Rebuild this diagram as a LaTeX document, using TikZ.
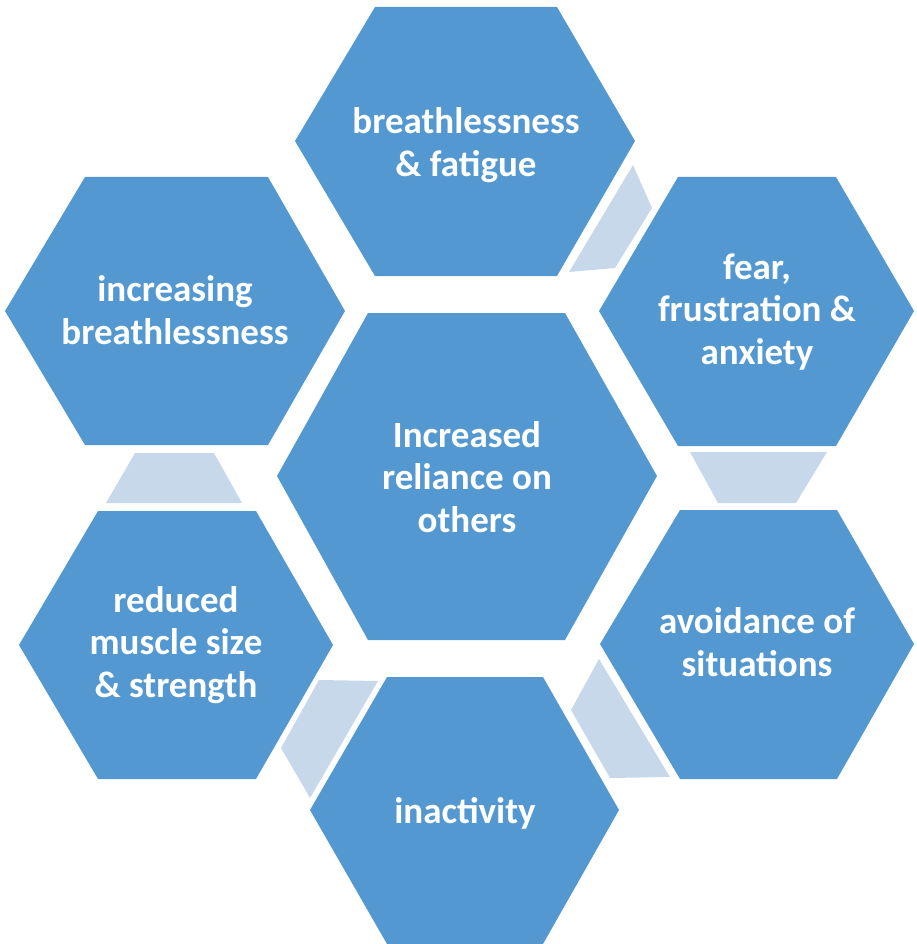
\documentclass[tikz,border=0pt]{standalone}
\usepackage{fontspec}
\setmainfont{Carlito}
\definecolor{hexblue}{HTML}{5398D1}
\definecolor{linkblue}{HTML}{C7D8EA}
\begin{document}
\begin{tikzpicture}[x=1pt,y=-1pt,
  hexfill/.style={fill=hexblue,draw=none},
  linkfill/.style={fill=linkblue,draw=none},
  label/.style={text=white,align=center,font=\fontsize{37}{42.5}\selectfont\bfseries,inner sep=0pt}]
\useasboundingbox (0,0) rectangle (916,944);

% hexagons (top-left, top-right, right, bottom-right, bottom-left, left)
\fill[hexfill] (375,7) -- (557,7) -- (635,141) -- (557,276) -- (375,276) -- (295,141) -- cycle;
\fill[hexfill] (85,177) -- (268,177) -- (345,311) -- (268,445) -- (85,445) -- (5,311) -- cycle;
\fill[hexfill] (678,177) -- (836,177) -- (914,311) -- (836,446) -- (678,446) -- (599,311) -- cycle;
\fill[hexfill] (368,313) -- (565,313) -- (657,476) -- (565,640) -- (368,640) -- (277,476) -- cycle;
\fill[hexfill] (98,511) -- (256,511) -- (333,645) -- (256,779) -- (98,779) -- (19,645) -- cycle;
\fill[hexfill] (680,510) -- (837,510) -- (914,644) -- (837,779) -- (680,779) -- (600,644) -- cycle;
\fill[hexfill] (387,677) -- (543,677) -- (619,810) -- (543,944) -- (387,944) -- (310,810) -- cycle;

% light linking pieces between neighbouring hexagons
\fill[linkfill] (633,165) -- (652,208) -- (615,268) -- (569,272) -- cycle;
\fill[linkfill] (690,452) -- (827,452) -- (796,503) -- (718,503) -- cycle;
\fill[linkfill] (599,659) -- (670,777) -- (610,778) -- (571,710) -- cycle;
\fill[linkfill] (319,680) -- (378,681) -- (310,798) -- (281,748) -- cycle;
\fill[linkfill] (135,453) -- (214,453) -- (242,503) -- (106,503) -- cycle;

% labels
\node[label] (fatigue) at (466,145) {breathlessness\\\& fatigue};
\node[label] (increasing) at (175,310) {increasing\\breathlessness};
\node[label] (fear) at (757,312) {fear,\\frustration \&\\anxiety};
\node[label] (reliance) at (467,477) {Increased\\reliance on\\others};
\node[label] (muscle) at (176,645) {reduced\\muscle size\\\& strength};
\node[label] (avoidance) at (757,642) {avoidance of\\situations};
\node[label] (inactivity) at (465,813) {inactivity};
\end{tikzpicture}
\end{document}
